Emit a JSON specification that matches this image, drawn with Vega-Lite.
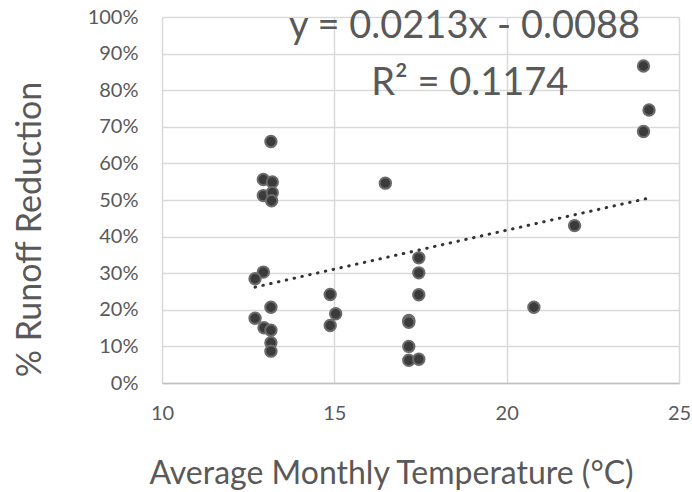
{
  "$schema": "https://vega.github.io/schema/vega-lite/v6.json",
  "autosize": {"type": "none"},
  "width": 517,
  "height": 366,
  "padding": {"left": 162, "top": 17, "right": 13, "bottom": 109},
  "background": "white",
  "config": {
    "view": {"stroke": null},
    "font": "Lato",
    "axis": {"labelFont": "Lato", "titleFont": "Lato", "labelColor": "#595959", "titleColor": "#595959", "gridColor": "#d9d9d9", "gridWidth": 1.5, "ticks": false, "tickSize": 0, "labelOverlap": false, "labelFlush": false}
  },
  "datasets": {
    "points": [
      {"temp": 13.16, "red": 0.660},
      {"temp": 12.94, "red": 0.556},
      {"temp": 13.2, "red": 0.549},
      {"temp": 12.94, "red": 0.512},
      {"temp": 13.2, "red": 0.520},
      {"temp": 13.18, "red": 0.498},
      {"temp": 12.94, "red": 0.303},
      {"temp": 12.7, "red": 0.285},
      {"temp": 13.16, "red": 0.207},
      {"temp": 12.7, "red": 0.177},
      {"temp": 12.96, "red": 0.151},
      {"temp": 13.16, "red": 0.144},
      {"temp": 13.16, "red": 0.110},
      {"temp": 13.16, "red": 0.087},
      {"temp": 14.88, "red": 0.242},
      {"temp": 15.04, "red": 0.189},
      {"temp": 14.88, "red": 0.157},
      {"temp": 16.48, "red": 0.546},
      {"temp": 17.45, "red": 0.342},
      {"temp": 17.45, "red": 0.301},
      {"temp": 17.45, "red": 0.241},
      {"temp": 17.16, "red": 0.171},
      {"temp": 17.16, "red": 0.166},
      {"temp": 17.16, "red": 0.100},
      {"temp": 17.16, "red": 0.062},
      {"temp": 17.45, "red": 0.065},
      {"temp": 23.97, "red": 0.866},
      {"temp": 24.13, "red": 0.746},
      {"temp": 23.97, "red": 0.687},
      {"temp": 21.97, "red": 0.430},
      {"temp": 20.79, "red": 0.207}
    ],
    "trend": [
      {"temp": 12.7, "red": 0.262},
      {"temp": 24.2, "red": 0.507}
    ],
    "labels": [
      {"label": "y = 0.0213x - 0.0088"}
    ],
    "labels2": [
      {"label": "R² = 0.1174"}
    ]
  },
  "encoding": {
    "x": {"type": "quantitative", "scale": {"domain": [10, 25], "nice": false, "zero": false},
      "axis": {"values": [10, 15, 20, 25], "title": "Average Monthly Temperature (°C)", "labelFontSize": 20, "labelPadding": 20, "labelOverlap": false, "titleFontSize": 32, "titleFontWeight": "normal", "titleBaseline": "alphabetic", "titleX": 229, "titleY": 100, "titleAnchor": "middle", "titleAlign": "center", "domainColor": "#bfbfbf", "domainWidth": 1.5}},
    "y": {"type": "quantitative", "scale": {"domain": [0, 1], "nice": false},
      "axis": {"values": [0, 0.1, 0.2, 0.3, 0.4, 0.5, 0.6, 0.7, 0.8, 0.9, 1], "format": ".0%", "title": "% Runoff Reduction", "labelFontSize": 20, "labelPadding": 24, "labelOverlap": false, "titleFontSize": 34, "titleFontWeight": "normal", "titleX": -132, "titleY": 212, "titleAlign": "center", "titleBaseline": "middle", "domain": false}}
  },
  "layer": [
    {
      "data": {"name": "points"},
      "mark": {"type": "point", "filled": true, "fill": "#3b3b3b", "stroke": "#6b6b6b", "strokeWidth": 2, "opacity": 1, "size": 130},
      "encoding": {
        "x": {"field": "temp"},
        "y": {"field": "red"}
      }
    },
    {
      "data": {"name": "trend"},
      "mark": {"type": "line", "color": "#333333", "strokeWidth": 3, "strokeDash": [0.5, 7.5], "strokeCap": "round"},
      "encoding": {
        "x": {"field": "temp"},
        "y": {"field": "red"}
      }
    },
    {
      "data": {"name": "labels"},
      "mark": {"type": "text", "fontSize": 38, "color": "#595959", "align": "center", "baseline": "alphabetic"},
      "encoding": {"text": {"field": "label"}, "x": {"datum": 18.78}, "y": {"datum": 0.9426}}
    },
    {
      "data": {"name": "labels2"},
      "mark": {"type": "text", "fontSize": 38, "color": "#595959", "align": "center", "baseline": "alphabetic"},
      "encoding": {"text": {"field": "label"}, "x": {"datum": 18.93}, "y": {"datum": 0.787}}
    }
  ]
}
